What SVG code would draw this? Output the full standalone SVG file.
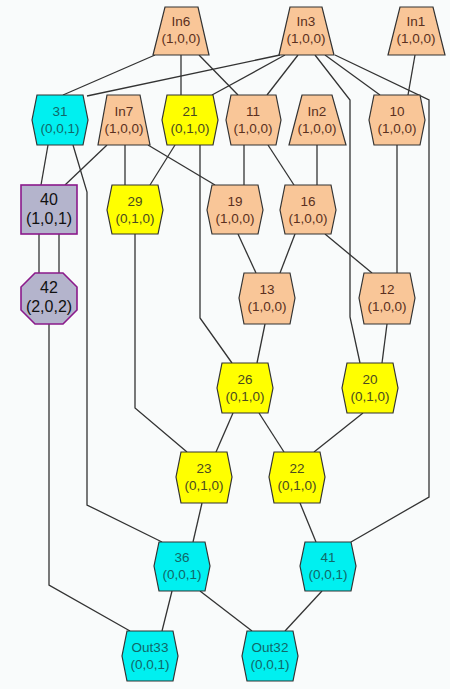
<svg xmlns="http://www.w3.org/2000/svg" width="450" height="689" viewBox="0 0 450 689">
<style>
.e{fill:none;stroke:#333;stroke-width:1.3}
.n{stroke:#333;stroke-width:1.2}
.p{fill:#f9c698}
.y{fill:#ffff00}
.c{fill:#00f0f0}
.g{fill:#b4b4cc;stroke:#8b1a8b;stroke-width:1.6}
text{font-family:"Liberation Sans",Arial,sans-serif;font-size:13.5px;text-anchor:middle}
.tp{fill:#5a3020}
.ty{fill:#4a4a20}
.tc{fill:#106868}
.tg{fill:#111;font-size:16px}
</style>
<rect width="450" height="689" fill="#f9fbfb"/>
<g id="edges">
<polyline class="e" points="155,55 63,95"/>
<polyline class="e" points="181,55 181,95"/>
<polyline class="e" points="199,55 238,95"/>
<polyline class="e" points="280,55 87,96"/>
<polyline class="e" points="285,55 212,95"/>
<polyline class="e" points="298,55 267,95"/>
<polyline class="e" points="315,55 350,100 350,317 360,363"/>
<polyline class="e" points="325,55 380,95"/>
<polyline class="e" points="335,55 429,100 429,497 351,542"/>
<polyline class="e" points="415,55 408,95"/>
<polyline class="e" points="48,145 41,185"/>
<polyline class="e" points="73,145 87,192 87,505 162,542"/>
<polyline class="e" points="107,145 65,185"/>
<polyline class="e" points="125,145 125,185"/>
<polyline class="e" points="148,145 215,185"/>
<polyline class="e" points="175,145 150,185"/>
<polyline class="e" points="200,145 200,318 232,363"/>
<polyline class="e" points="244,145 244,185"/>
<polyline class="e" points="268,145 294,185"/>
<polyline class="e" points="317,145 317,185"/>
<polyline class="e" points="397,145 397,273"/>
<polyline class="e" points="238,234 256,273"/>
<polyline class="e" points="295,234 280,273"/>
<polyline class="e" points="325,234 372,273"/>
<polyline class="e" points="39,234 39,273"/>
<polyline class="e" points="59,234 59,273"/>
<polyline class="e" points="49,324 49,585 130,631"/>
<polyline class="e" points="135,234 135,408 187,452"/>
<polyline class="e" points="265,324 257,363"/>
<polyline class="e" points="387,324 382,363"/>
<polyline class="e" points="233,413 216,452"/>
<polyline class="e" points="259,413 284,452"/>
<polyline class="e" points="363,413 314,452"/>
<polyline class="e" points="202,503 193,542"/>
<polyline class="e" points="300,503 316,542"/>
<polyline class="e" points="172,591 162,631"/>
<polyline class="e" points="200,591 252,631"/>
<polyline class="e" points="322,591 285,631"/>
</g>
<g id="In6"><polygon class="n p" points="165,7 198,7 209,55 153,55"/><text class="tp" x="181" y="26">In6</text><text class="tp" x="181" y="43">(1,0,0)</text></g>
<g id="In3"><polygon class="n p" points="290,7 322,7 334,55 279,55"/><text class="tp" x="306" y="26">In3</text><text class="tp" x="306" y="43">(1,0,0)</text></g>
<g id="In1"><polygon class="n p" points="400,7 433,7 445,55 388,55"/><text class="tp" x="416" y="26">In1</text><text class="tp" x="416" y="43">(1,0,0)</text></g>
<g id="n31"><polygon class="n c" points="37,95 83,95 88,120 83,145 37,145 32,120"/><text class="tc" x="60" y="116">31</text><text class="tc" x="60" y="133">(0,0,1)</text></g>
<g id="In7"><polygon class="n p" points="107,95 140,95 150,145 98,145"/><text class="tp" x="124" y="116">In7</text><text class="tp" x="124" y="133">(1,0,0)</text></g>
<g id="n21"><polygon class="n y" points="167,95 213,95 218,120 213,145 167,145 162,120"/><text class="ty" x="190" y="116">21</text><text class="ty" x="190" y="133">(0,1,0)</text></g>
<g id="n11"><polygon class="n p" points="231,95 276,95 281,120 276,145 231,145 226,120"/><text class="tp" x="253" y="116">11</text><text class="tp" x="253" y="133">(1,0,0)</text></g>
<g id="In2"><polygon class="n p" points="302,95 332,95 346,145 289,145"/><text class="tp" x="317" y="116">In2</text><text class="tp" x="317" y="133">(1,0,0)</text></g>
<g id="n10"><polygon class="n p" points="374,95 420,95 425,120 420,145 374,145 369,120"/><text class="tp" x="397" y="116">10</text><text class="tp" x="397" y="133">(1,0,0)</text></g>
<g id="n40"><rect class="g" x="21" y="185" width="56" height="49"/><text class="tg" x="49" y="205">40</text><text class="tg" x="49" y="224">(1,0,1)</text></g>
<g id="n29"><polygon class="n y" points="112,185 158,185 163,210 158,234 112,234 107,210"/><text class="ty" x="135" y="206">29</text><text class="ty" x="135" y="223">(0,1,0)</text></g>
<g id="n19"><polygon class="n p" points="212,185 258,185 263,210 258,234 212,234 207,210"/><text class="tp" x="235" y="206">19</text><text class="tp" x="235" y="223">(1,0,0)</text></g>
<g id="n16"><polygon class="n p" points="285,185 331,185 336,210 331,234 285,234 280,210"/><text class="tp" x="308" y="206">16</text><text class="tp" x="308" y="223">(1,0,0)</text></g>
<g id="n42"><polygon class="g" points="35,273 63,273 77,287 77,310 63,324 35,324 21,310 21,287"/><text class="tg" x="49" y="293">42</text><text class="tg" x="49" y="312">(2,0,2)</text></g>
<g id="n13"><polygon class="n p" points="244,273 290,273 295,298 290,324 244,324 239,298"/><text class="tp" x="267" y="294">13</text><text class="tp" x="267" y="311">(1,0,0)</text></g>
<g id="n12"><polygon class="n p" points="364,273 410,273 415,298 410,324 364,324 359,298"/><text class="tp" x="387" y="294">12</text><text class="tp" x="387" y="311">(1,0,0)</text></g>
<g id="n26"><polygon class="n y" points="222,363 268,363 273,388 268,413 222,413 217,388"/><text class="ty" x="245" y="384">26</text><text class="ty" x="245" y="401">(0,1,0)</text></g>
<g id="n20"><polygon class="n y" points="347,363 393,363 398,388 393,413 347,413 342,388"/><text class="ty" x="370" y="384">20</text><text class="ty" x="370" y="401">(0,1,0)</text></g>
<g id="n23"><polygon class="n y" points="181,452 227,452 232,477 227,503 181,503 176,477"/><text class="ty" x="204" y="473">23</text><text class="ty" x="204" y="490">(0,1,0)</text></g>
<g id="n22"><polygon class="n y" points="274,452 320,452 325,477 320,503 274,503 269,477"/><text class="ty" x="297" y="473">22</text><text class="ty" x="297" y="490">(0,1,0)</text></g>
<g id="n36"><polygon class="n c" points="159,542 205,542 210,566 205,591 159,591 154,566"/><text class="tc" x="182" y="562">36</text><text class="tc" x="182" y="579">(0,0,1)</text></g>
<g id="n41"><polygon class="n c" points="305,542 351,542 356,566 351,591 305,591 300,566"/><text class="tc" x="328" y="562">41</text><text class="tc" x="328" y="579">(0,0,1)</text></g>
<g id="Out33"><polygon class="n c" points="127,631 173,631 178,656 173,681 127,681 122,656"/><text class="tc" x="150" y="652">Out33</text><text class="tc" x="150" y="669">(0,0,1)</text></g>
<g id="Out32"><polygon class="n c" points="247,631 293,631 298,656 293,681 247,681 242,656"/><text class="tc" x="270" y="652">Out32</text><text class="tc" x="270" y="669">(0,0,1)</text></g>
</svg>
